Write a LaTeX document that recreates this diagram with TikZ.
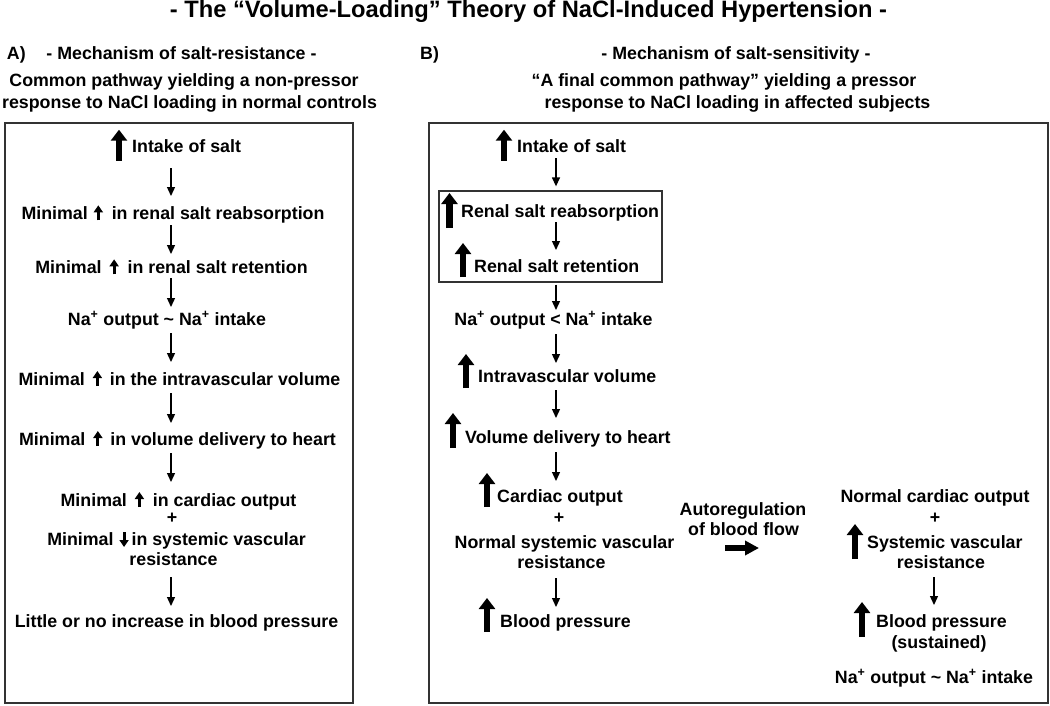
\documentclass[tikz,border=0pt]{standalone}
\usepackage{fontspec}
\setmainfont{Liberation Sans}
\usetikzlibrary{arrows.meta,calc}
\newcommand{\upar}{\tikz[baseline=0pt,x=1pt,y=1pt]\draw[line width=3pt,-{Triangle[width=9pt,length=7pt]}] (0,-1) -- (0,14);}
\newcommand{\dnar}{\tikz[baseline=0pt,x=1pt,y=1pt]\draw[line width=3pt,-{Triangle[width=9pt,length=7pt]}] (0,13) -- (0,-2);}
\newcommand{\fatup}[4]{\draw[fat] ($(#1.base west)+(#2,#3)$) -- ++(0,-#4);}
\newcommand{\conn}[5]{\draw[conn] ($(#1.base -| #3)+(0,#4)$) -- ($(#2.base -| #3)+(0,-#5)$);}
\newcommand{\NaP}{Na\textsuperscript{+}}
\begin{document}
\begin{tikzpicture}[x=1pt,y=-1pt,
  txt/.style={inner sep=0pt, anchor=base, font=\fontsize{17.8}{21}\selectfont\bfseries},
  txtl/.style={txt, anchor=base west},
  conn/.style={line width=1.3pt, -{Triangle[width=8pt,length=9pt]}},
  fat/.style={line width=6.5pt, -{Triangle[width=16pt,length=11pt]}},
  fatr/.style={line width=6pt, -{Triangle[width=14pt,length=14pt]}},
  frame/.style={draw=black!80, line width=1.3pt}]
\useasboundingbox (0,0) rectangle (1050,705);
\fill[white] (0,0) rectangle (1050,705);

% title and headers
\node[txt, font=\fontsize{23.7}{28}\selectfont\bfseries] (title) at (528.5,17) {- The “Volume-Loading” Theory of NaCl-Induced Hypertension -};
\node[txtl] (labA) at (6.7,59) {A)};
\node[txt] (mechA) at (181.5,59) {- Mechanism of salt-resistance -};
\node[txt] (subA1) at (184,86) {Common pathway yielding a non-pressor};
\node[txt] (subA2) at (189.5,108) {response to NaCl loading in normal controls};
\node[txtl] (labB) at (420,59) {B)};
\node[txt] (mechB) at (736,59) {- Mechanism of salt-sensitivity -};
\node[txt] (subB1) at (724,86) {“A final common pathway” yielding a pressor};
\node[txt] (subB2) at (737.5,108) {response to NaCl loading in affected subjects};

% frames
\draw[frame] (5,123) rectangle (353,703);
\draw[frame] (429,123) rectangle (1048,703);

% ---------- panel A ----------
\coordinate (cA) at (171,0);
\node[txtl] (intakeA) at (132,152.7) {Intake of salt};
\fatup{intakeA}{-13}{8}{31}
\node[txt] (reabA) at (173,219.3) {Minimal\hspace{6pt}\upar\hspace{9pt}in renal salt reabsorption};
\node[txt] (retA) at (171.5,273.3) {Minimal\hspace{8pt}\upar\hspace{9pt}in renal salt retention};
\node[txt] (naA) at (167,325) {\NaP{} output \textasciitilde{} \NaP{} intake};
\node[txt] (ivA) at (179.5,385) {Minimal\hspace{8pt}\upar\hspace{8pt}in the intravascular volume};
\node[txt] (delA) at (177.5,445) {Minimal\hspace{8pt}\upar\hspace{8pt}in volume delivery to heart};
\node[txt] (coA) at (178.5,506) {Minimal\hspace{8pt}\upar\hspace{9pt}in cardiac output};
\node[txt] (plusA) at (172,523) {+};
\node[txt] (svA) at (176.5,545) {Minimal\hspace{6pt}\dnar\hspace{3pt}in systemic vascular};
\node[txt] (resA) at (173.5,565) {resistance};
\node[txt] (bpA) at (176.5,627) {Little or no increase in blood pressure};
\conn{intakeA}{reabA}{cA}{15.3}{23.3}
\conn{reabA}{retA}{cA}{5.7}{19.3}
\conn{retA}{naA}{cA}{4.7}{18}
\conn{naA}{ivA}{cA}{8}{23}
\conn{ivA}{delA}{cA}{8}{22}
\conn{delA}{coA}{cA}{8}{24}
\conn{resA}{bpA}{cA}{12}{21}

% ---------- panel B ----------
\coordinate (cB) at (556,0);
\node[txtl] (intakeB) at (517,152.7) {Intake of salt};
\fatup{intakeB}{-13}{8}{31}
\node[draw=black!80, line width=1.3pt, minimum width=223pt, minimum height=91pt, inner sep=0pt] (rbox) at (550.5,236.5) {};
\node[txtl] (reabB) at (461,217) {Renal salt reabsorption};
\fatup{reabB}{-11.5}{11}{35}
\node[txtl] (retB) at (474,272) {Renal salt retention};
\fatup{retB}{-11}{5}{34}
\node[txt] (naB) at (553.5,325) {\NaP{} output \textless{} \NaP{} intake};
\node[txtl] (ivB) at (478,382) {Intravascular volume};
\fatup{ivB}{-12}{6}{34}
\node[txtl] (delB) at (465,443) {Volume delivery to heart};
\fatup{delB}{-12}{5}{35}
\node[txtl] (coB) at (497,502) {Cardiac output};
\fatup{coB}{-10}{5}{34}
\node[txt] (plusB) at (559,523) {+};
\node[txt] (svB) at (564.5,548) {Normal systemic vascular};
\node[txt] (resB) at (561.5,568) {resistance};
\node[txtl] (bpB) at (500,627) {Blood pressure};
\fatup{bpB}{-13}{5}{34}

\draw[conn] ($(intakeB.base -| cB)+(0,5.3)$) -- ($(rbox.north -| cB)+(0,-4)$);
\conn{reabB}{retB}{cB}{5}{22}
\draw[conn] ($(rbox.south -| cB)+(0,2)$) -- ($(naB.base -| cB)+(0,-15)$);
\conn{naB}{ivB}{cB}{9}{19}
\conn{ivB}{delB}{cB}{8}{25}
\conn{delB}{coB}{cB}{9}{21}
\conn{resB}{bpB}{cB}{10}{20}

% autoregulation
\node[txt] (autoB) at (743,515) {Autoregulation};
\node[txt] (flowB) at (743.5,535) {of blood flow};
\draw[fatr] ($(flowB.base)+(-18.5,13)$) -- ++(34,0);

% right column
\coordinate (cR) at (934,0);
\node[txt] (ncoR) at (935,502) {Normal cardiac output};
\node[txt] (plusR) at (935,523) {+};
\node[txtl] (svR) at (867,548) {Systemic vascular};
\fatup{svR}{-12}{11}{35}
\node[txt] (resR) at (941,568) {resistance};
\node[txtl] (bpR) at (876,627) {Blood pressure};
\fatup{bpR}{-14}{10}{35}
\node[txt] (susR) at (939,648) {(sustained)};
\node[txt] (naR) at (934,683) {\NaP{} output \textasciitilde{} \NaP{} intake};
\conn{resR}{bpR}{cR}{9}{22}
\end{tikzpicture}
\end{document}
